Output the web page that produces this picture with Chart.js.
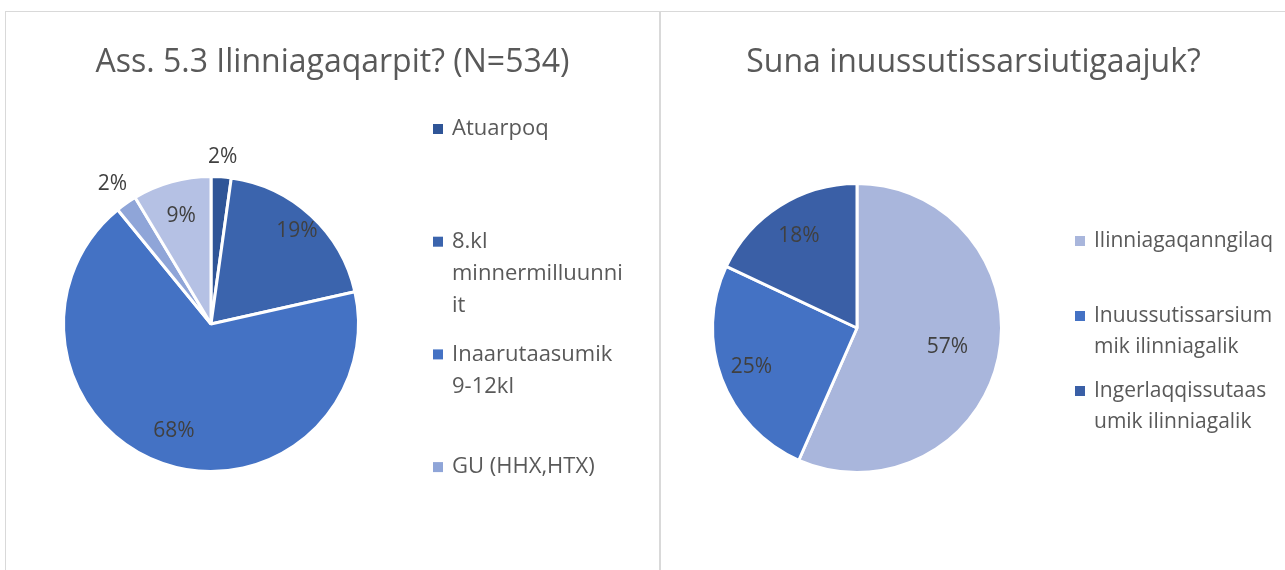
<!DOCTYPE html>
<html>
<head>
<meta charset="utf-8">
<script src="https://cdn.jsdelivr.net/npm/chart.js@4.4.1/dist/chart.umd.min.js"></script>
<style>
  html, body { margin: 0; padding: 0; background: #fff; }
  #frame {
    position: absolute; left: 5px; top: 11px; width: 1280px; height: 559px;
    border-top: 1px solid #d9d9d9; border-left: 1px solid #d9d9d9;
  }
  .panel { position: absolute; top: 0; height: 558px; }
  #leftPanel { left: 0; width: 653px; border-right: 2px solid #d9d9d9; }
  #rightPanel { left: 655px; width: 625px; }
</style>
</head>
<body>
<div id="frame">
  <div class="panel" id="leftPanel"><canvas id="eduChart" width="653" height="558"></canvas></div>
  <div class="panel" id="rightPanel"><canvas id="jobChart" width="625" height="558"></canvas></div>
</div>
<script>
// left chart: Ass. 5.3
const eduTitle = "Ass. 5.3 Ilinniagaqarpit? (N=534)";
const eduLabels = [
  ["Atuarpoq"],
  ["8.kl", "minnermilluunni", "it"],
  ["Inaarutaasumik", "9-12kl"],
  ["GU (HHX,HTX)"],
  ["Allat"]
];
const eduValues = [2.2, 19.3, 67.6, 2.3, 8.6];
const eduColors = ["#2f5597", "#3b64ad", "#4472c4", "#8fa5d8", "#b5c1e4"];
const eduLegendCount = 4; // the 5th slice has no legend entry in the original

// right chart
const jobTitle = "Suna inuussutissarsiutigaajuk?";
const jobLabels = [
  ["Ilinniagaqanngilaq"],
  ["Inuussutissarsium", "mik ilinniagalik"],
  ["Ingerlaqqissutaas", "umik ilinniagalik"]
];
const jobValues = [56.6, 25.4, 18.0];
const jobColors = ["#a9b6dc", "#4472c4", "#3a5fa6"];

const FONT = "'Open Sans', sans-serif";
const GREY = "#595959";

// title centred over the whole panel (Excel style)
const panelTitle = {
  id: "panelTitle",
  afterDraw(chart, args, opts) {
    const ctx = chart.ctx;
    ctx.save();
    ctx.font = opts.size + "px " + FONT;
    ctx.fillStyle = GREY;
    ctx.textAlign = "center";
    ctx.textBaseline = "middle";
    ctx.fillText(opts.text, chart.width / 2, opts.y);
    ctx.restore();
  }
};

// percent labels on / next to the slices
const sliceLabels = {
  id: "sliceLabels",
  afterDatasetsDraw(chart, args, opts) {
    const ctx = chart.ctx;
    const ds = chart.data.datasets[0];
    const total = ds.data.reduce((a, b) => a + b, 0);
    const meta = chart.getDatasetMeta(0);
    ctx.save();
    ctx.font = "21px " + FONT;
    ctx.fillStyle = "#404040";
    ctx.textAlign = "center";
    ctx.textBaseline = "middle";
    meta.data.forEach((arc, i) => {
      const p = arc.getProps(["x", "y", "startAngle", "endAngle", "outerRadius"], true);
      const pct = ds.data[i] / total * 100;
      const mid = (p.startAngle + p.endAngle) / 2;
      const f = opts.radius[i];
      const d = f > 1 ? p.outerRadius + f : p.outerRadius * f;
      ctx.fillText(Math.round(pct) + "%", p.x + Math.cos(mid) * d, p.y + Math.sin(mid) * d);
    });
    ctx.restore();
  }
};

// Excel-like legend with wrapped lines
const sideLegend = {
  id: "sideLegend",
  afterDraw(chart, args, opts) {
    const ctx = chart.ctx;
    const ds = chart.data.datasets[0];
    ctx.save();
    ctx.font = opts.size + "px " + FONT;
    ctx.textBaseline = "middle";
    for (let i = 0; i < opts.count; i++) {
      const y = opts.top + i * opts.step;
      ctx.fillStyle = ds.backgroundColor[i];
      ctx.fillRect(opts.x, y - 5, 10, 10);
      ctx.fillStyle = GREY;
      chart.data.labels[i].forEach((line, k) => {
        ctx.fillText(line, opts.x + 19, y + k * opts.lineHeight);
      });
    }
    ctx.restore();
  }
};

function makePie(id, title, labels, values, colors, pad, legend, labelRadius) {
  return new Chart(document.getElementById(id), {
    type: "pie",
    data: {
      labels: labels,
      datasets: [{
        data: values,
        backgroundColor: colors,
        borderColor: "#ffffff",
        borderWidth: 3
      }]
    },
    options: {
      responsive: false,
      animation: false,
      layout: { padding: pad },
      plugins: {
        legend: { display: false },
        tooltip: { enabled: false },
        title: { display: false },
        panelTitle: { text: title, size: 32, y: 51 },
        sliceLabels: { radius: labelRadius },
        sideLegend: legend
      }
    },
    plugins: [sliceLabels, sideLegend, panelTitle]
  });
}

makePie("eduChart", eduTitle, eduLabels, eduValues, eduColors,
  { left: 56, right: 299, top: 163, bottom: 97 },
  { x: 427, top: 117, step: 112.7, lineHeight: 32, count: eduLegendCount, size: 22 },
  [20, 0.86, 0.77, 24, 0.76]);

makePie("jobChart", jobTitle, jobLabels, jobValues, jobColors,
  { left: 50, right: 283, top: 170, bottom: 96 },
  { x: 414, top: 229, step: 75, lineHeight: 31, count: jobLabels.length, size: 21 },
  [0.64, 0.78, 0.75]);
</script>
</body>
</html>
